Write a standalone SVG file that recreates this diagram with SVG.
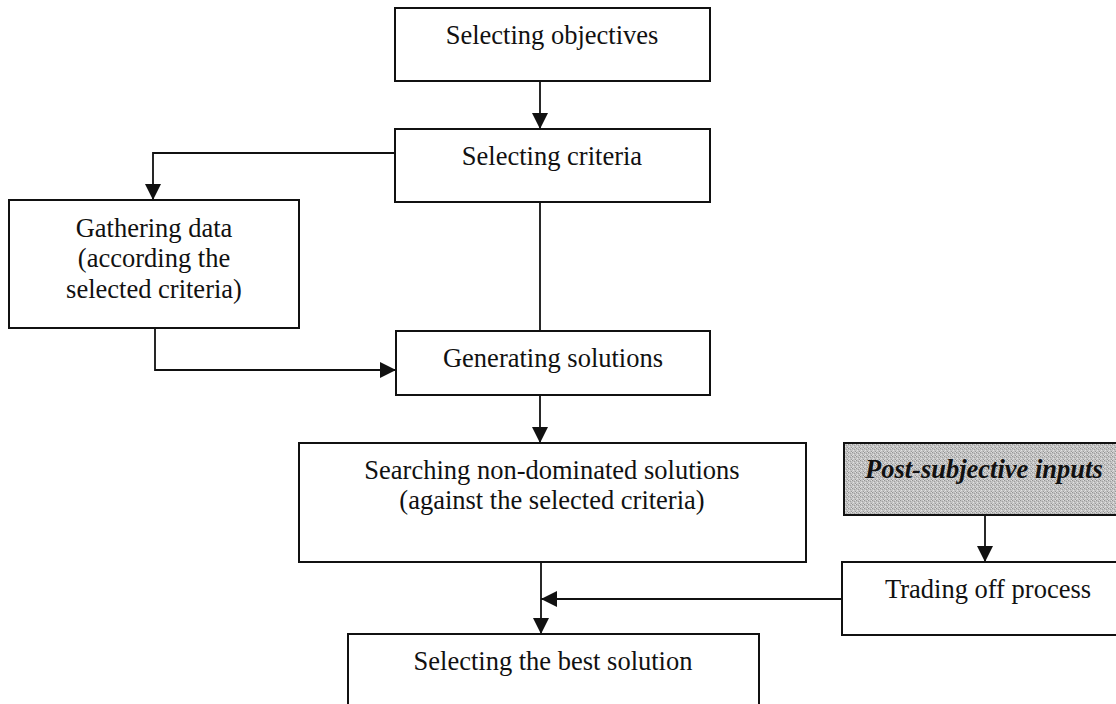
<svg xmlns="http://www.w3.org/2000/svg" width="1116" height="704" viewBox="0 0 1116 704">
  <style>
    .box { fill: #ffffff; stroke: #111111; stroke-width: 2; }
    .label { font-family: "Liberation Serif", "Times New Roman", serif; font-size: 26.5px; fill: #111111; text-anchor: middle; }
    .emph { font-weight: bold; font-style: italic; text-anchor: start; }
    .wire { fill: none; stroke: #111111; stroke-width: 1.8; }
  </style>
  <defs>
    <marker id="arrow" viewBox="0 0 16 16" refX="16" refY="8" markerWidth="16" markerHeight="16" markerUnits="userSpaceOnUse" orient="auto">
      <path d="M0,0 L16,8 L0,16 Z" fill="#111111"/>
    </marker>
    <!-- dithered grey fill for the input box -->
    <pattern id="grain" width="4" height="4" patternUnits="userSpaceOnUse">
      <rect width="4" height="4" fill="#c2c2c2"/>
      <rect x="0" y="0" width="1" height="1" fill="#939393"/>
      <rect x="2" y="1" width="1" height="1" fill="#a0a0a0"/>
      <rect x="1" y="2" width="1" height="1" fill="#e2e2e2"/>
      <rect x="3" y="3" width="1" height="1" fill="#999999"/>
      <rect x="3" y="0" width="1" height="1" fill="#dedede"/>
      <rect x="0" y="3" width="1" height="1" fill="#d8d8d8"/>
    </pattern>
  </defs>

  <rect width="1116" height="704" fill="#ffffff"/>

  <g id="connectors">
    <line class="wire" x1="540" y1="81" x2="540" y2="129" marker-end="url(#arrow)"/>
    <polyline class="wire" points="395,153 153,153 153,200" marker-end="url(#arrow)"/>
    <line class="wire" x1="540" y1="202" x2="540" y2="331"/>
    <polyline class="wire" points="155,328 155,370 396,370" marker-end="url(#arrow)"/>
    <line class="wire" x1="540" y1="395" x2="540" y2="443" marker-end="url(#arrow)"/>
    <line class="wire" x1="985" y1="515" x2="985" y2="562" marker-end="url(#arrow)"/>
    <line class="wire" x1="842" y1="599" x2="541" y2="599" marker-end="url(#arrow)"/>
    <line class="wire" x1="541" y1="562" x2="541" y2="634" marker-end="url(#arrow)"/>
  </g>

  <g id="selecting-objectives">
    <rect class="box" x="395" y="8" width="315" height="73"/>
    <text class="label" x="552" y="44">Selecting objectives</text>
  </g>

  <g id="selecting-criteria">
    <rect class="box" x="395" y="129" width="315" height="73"/>
    <text class="label" x="552" y="165">Selecting criteria</text>
  </g>

  <g id="gathering-data">
    <rect class="box" x="9" y="200" width="290" height="128"/>
    <text class="label" x="154" y="237">Gathering data</text>
    <text class="label" x="154" y="267">(according the</text>
    <text class="label" x="154" y="298">selected criteria)</text>
  </g>

  <g id="generating-solutions">
    <rect class="box" x="396" y="331" width="314" height="64"/>
    <text class="label" x="553" y="367">Generating solutions</text>
  </g>

  <g id="searching-non-dominated">
    <rect class="box" x="299" y="443" width="507" height="119"/>
    <text class="label" x="552" y="479">Searching non-dominated solutions</text>
    <text class="label" x="552" y="509">(against the selected criteria)</text>
  </g>

  <g id="post-subjective-inputs">
    <rect x="844" y="443" width="290" height="72" fill="url(#grain)" stroke="#111111" stroke-width="2"/>
    <text class="label emph" x="865" y="478">Post-subjective inputs</text>
  </g>

  <g id="trading-off">
    <rect class="box" x="842" y="562" width="290" height="73"/>
    <text class="label" x="988" y="598">Trading off process</text>
  </g>

  <g id="selecting-best">
    <rect class="box" x="348" y="634" width="411" height="90"/>
    <text class="label" x="553" y="670">Selecting the best solution</text>
  </g>
</svg>
